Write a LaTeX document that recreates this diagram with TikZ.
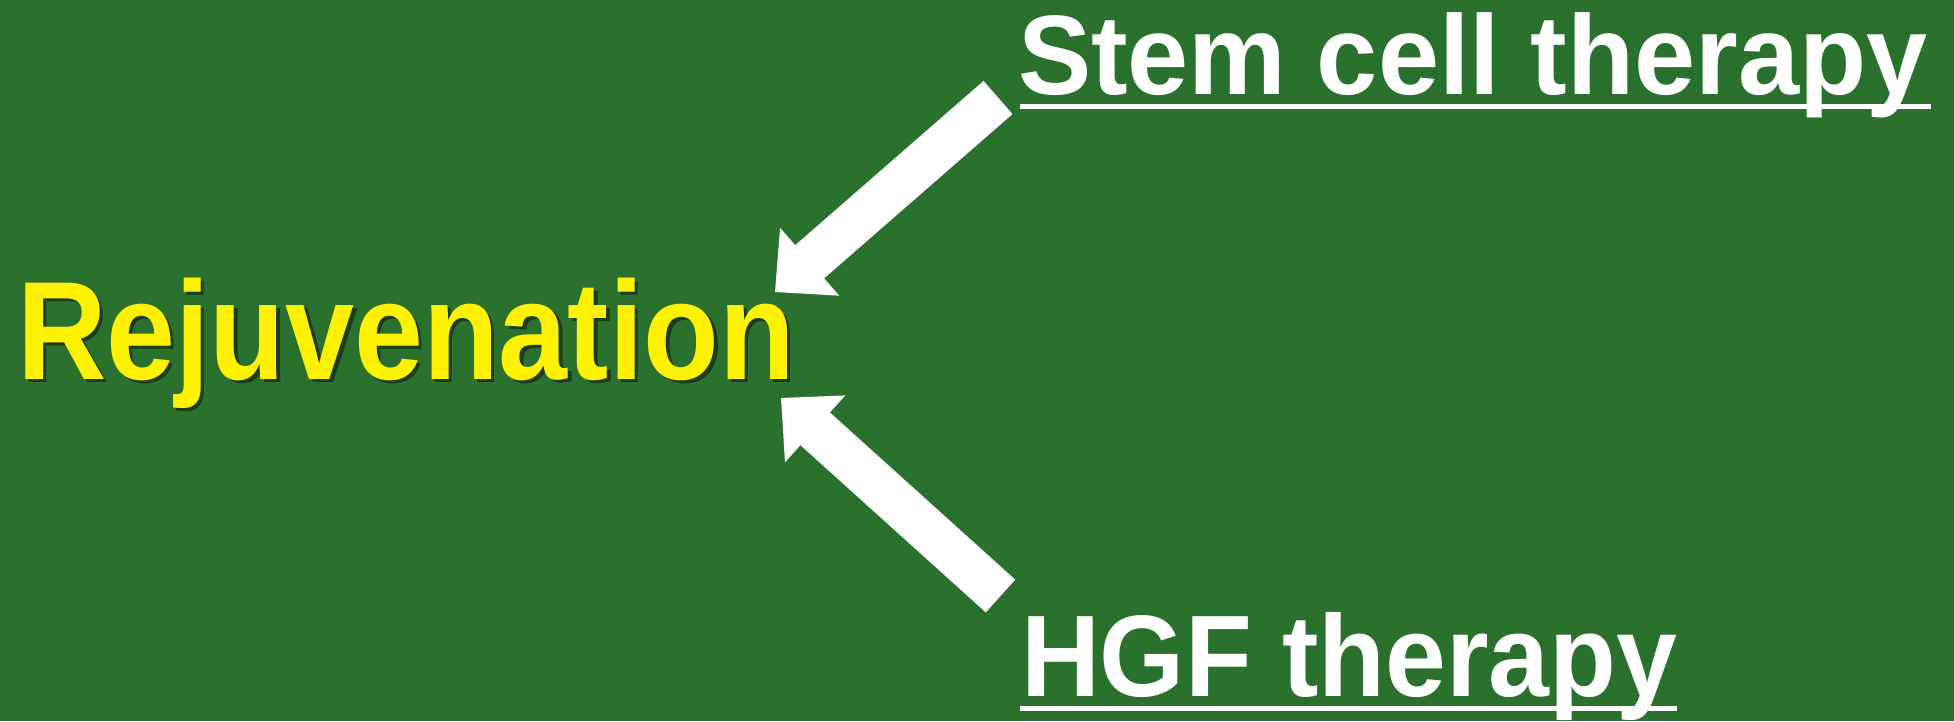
\documentclass[tikz,border=0pt]{standalone}
\usepackage{fontspec}
\usepackage{graphicx}
\setmainfont{Liberation Sans}
\usetikzlibrary{calc}
\definecolor{bg}{RGB}{43,113,46}
\definecolor{shadowc}{RGB}{26,60,26}
\newcommand\fatarrow[2]{%
  \fill[white] ($(#1)!22pt!90:(#2)$)
    -- ($($(#2)!46pt!(#1)$)!22pt!90:(#2)$)
    -- ($($(#2)!46pt!(#1)$)!45pt!90:(#2)$)
    -- (#2)
    -- ($($(#2)!46pt!(#1)$)!45pt!-90:(#2)$)
    -- ($($(#2)!46pt!(#1)$)!22pt!-90:(#2)$)
    -- ($(#1)!22pt!-90:(#2)$) -- cycle;}
\newcommand\shadowed[1]{%
  \rlap{\kern4pt\raisebox{-3pt}{\textcolor{shadowc}{#1}}}#1}
\begin{document}
\begin{tikzpicture}[x=1pt,y=-1pt,
  txt/.style={inner sep=0pt, outer sep=0pt, anchor=base west},
  yeltxt/.style={txt, font=\bfseries\fontsize{140}{140}\selectfont, text=yellow},
  whtxt/.style={txt, text=white},
  ul/.style={draw=white, line width=5pt}]
\fill[bg] (0,0) rectangle (1954,721);
\node[yeltxt] (rej) at (17,379) {\scalebox{0.885}[1]{\shadowed{Rejuvenation}}};
\draw[ul] (1019.5,106.5) -- (1931,106.5);
\draw[ul] (1019.5,708.5) -- (1677,708.5);
\node[whtxt, font=\bfseries\fontsize{113}{113}\selectfont] (stem) at (1018,94.3) {\scalebox{0.972}[1]{Stem cell therapy}};
\node[whtxt, font=\bfseries\fontsize{116}{116}\selectfont] (hgf) at (1021,696) {\scalebox{0.943}[1]{HGF therapy}};
\coordinate (a1s) at (998,97.5);
\coordinate (a1e) at (775,292);
\coordinate (a2s) at (1000.5,596);
\coordinate (a2e) at (781,398);
\fatarrow{a1s}{a1e}
\fatarrow{a2s}{a2e}
\end{tikzpicture}
\end{document}
